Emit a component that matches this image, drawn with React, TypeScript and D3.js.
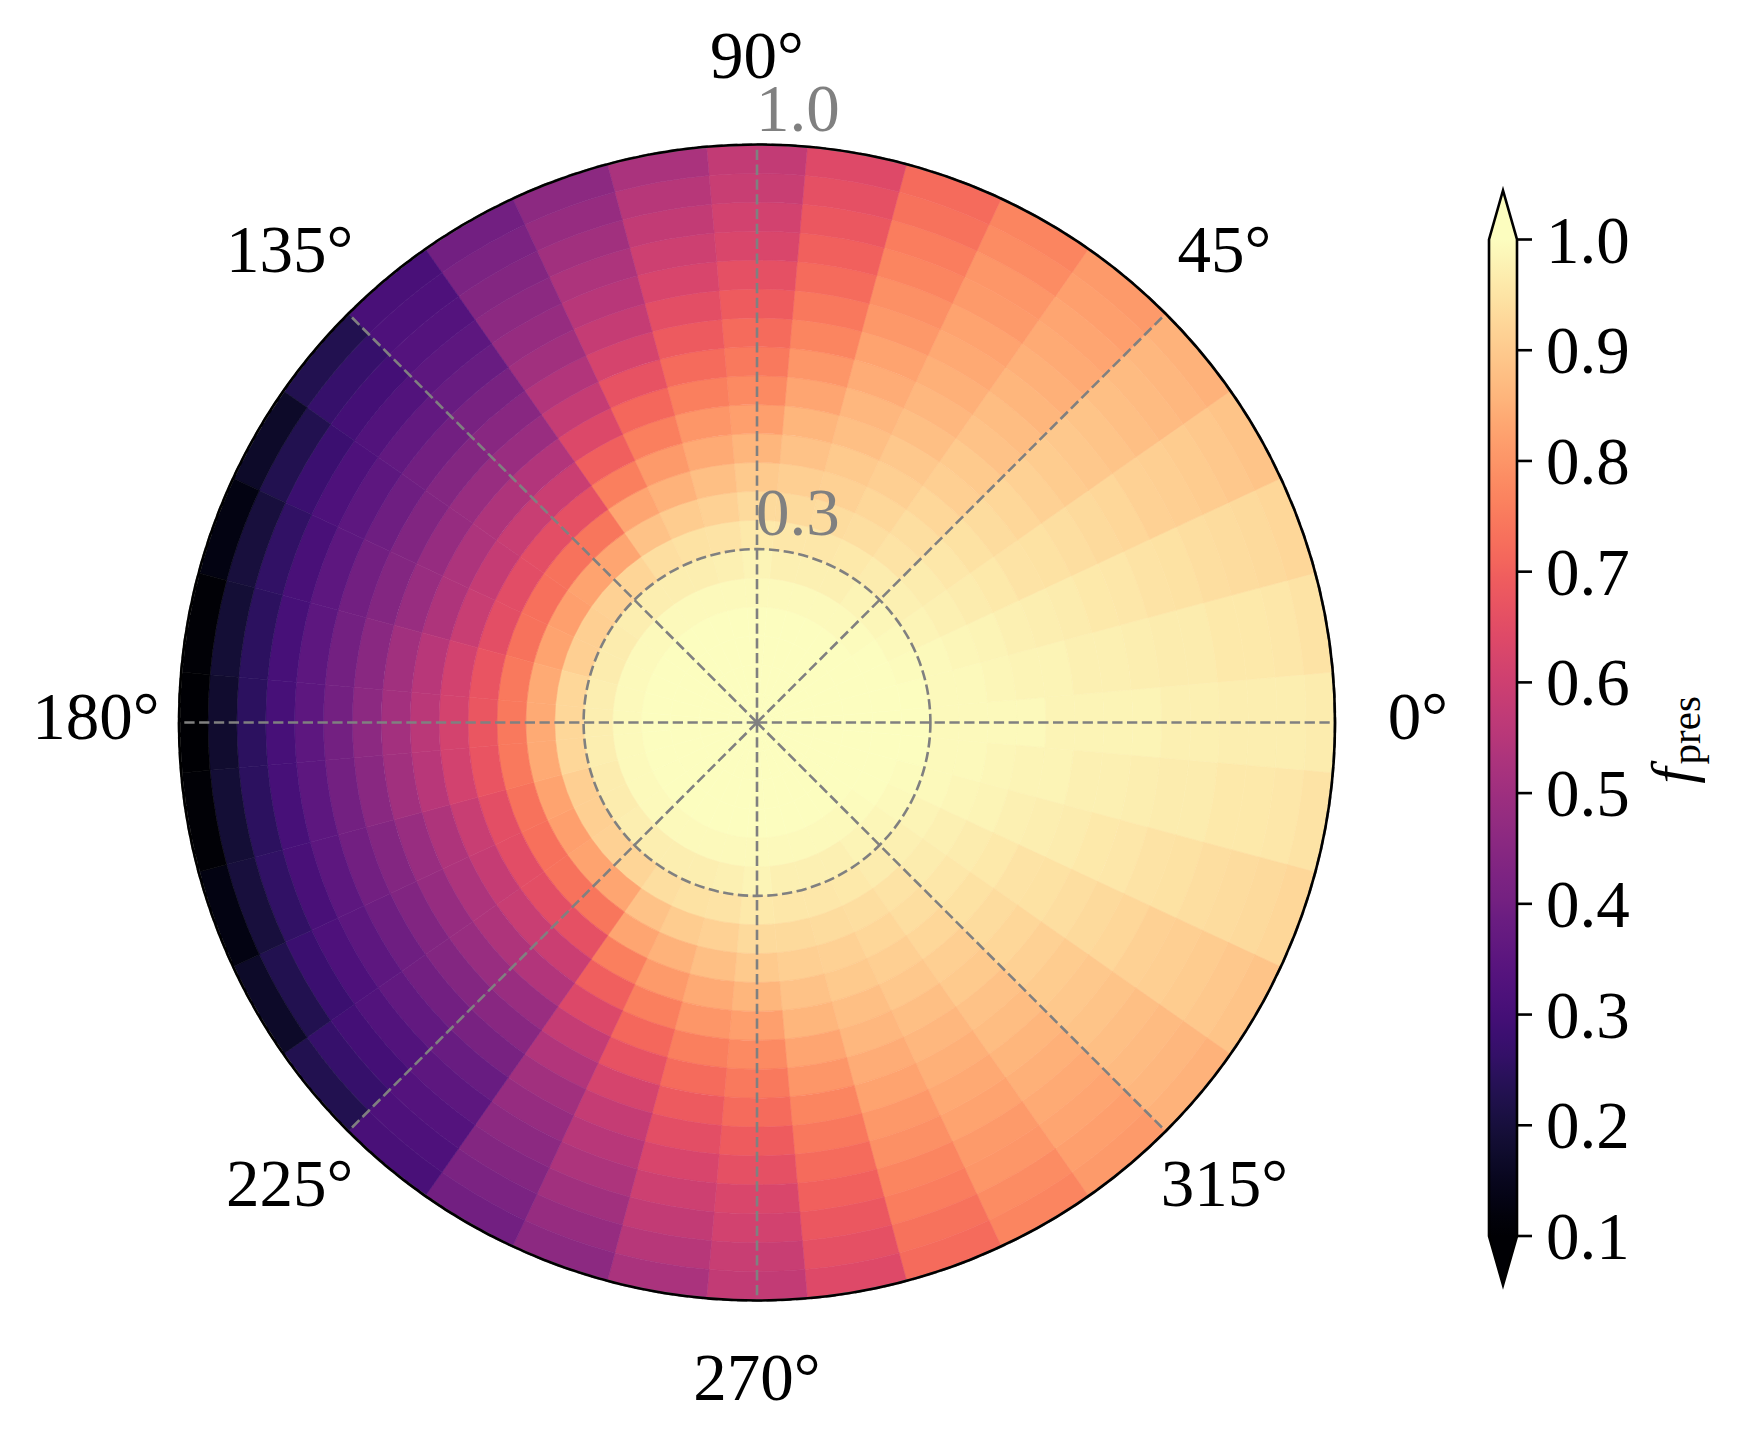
import React from 'react';
import * as d3 from 'd3';

// polar heatmap of f_pres (upper half; lower half mirrors it)
const thetaDeg = [0, 10, 20, 30, 40, 50, 60, 70, 80, 90, 100, 110, 120, 130, 140, 150, 160, 170, 180];
const radiusEdges = [0, 0.05, 0.1, 0.15, 0.2, 0.25, 0.3, 0.35, 0.4, 0.45, 0.5, 0.55, 0.6, 0.65, 0.7, 0.75, 0.8, 0.85, 0.9, 0.95, 1.0];

// one row per angle, one value per radial band (inner -> outer)
const fPres = [
  [1, 1, 1, 1, 1, 1, 0.99, 0.99, 0.99, 0.99, 0.98, 0.98, 0.98, 0.98, 0.975, 0.975, 0.97, 0.97, 0.97, 0.965],
  [1, 1, 1, 1, 1, 1, 0.99, 0.99, 0.985, 0.98, 0.98, 0.975, 0.975, 0.97, 0.965, 0.965, 0.96, 0.96, 0.955, 0.95],
  [1, 1, 1, 1, 1, 0.995, 0.99, 0.985, 0.98, 0.975, 0.97, 0.965, 0.96, 0.955, 0.95, 0.945, 0.94, 0.935, 0.93, 0.925],
  [1, 1, 1, 1, 1, 0.99, 0.98, 0.975, 0.965, 0.96, 0.95, 0.945, 0.94, 0.93, 0.925, 0.915, 0.91, 0.905, 0.895, 0.89],
  [1, 1, 1, 1, 0.995, 0.985, 0.975, 0.965, 0.955, 0.945, 0.935, 0.925, 0.915, 0.905, 0.895, 0.89, 0.88, 0.87, 0.865, 0.855],
  [1, 1, 1, 1, 0.99, 0.98, 0.965, 0.95, 0.94, 0.925, 0.91, 0.9, 0.885, 0.875, 0.86, 0.85, 0.84, 0.83, 0.82, 0.81],
  [1, 1, 1, 1, 0.99, 0.975, 0.96, 0.94, 0.925, 0.91, 0.895, 0.88, 0.865, 0.85, 0.835, 0.825, 0.81, 0.8, 0.785, 0.77],
  [1, 1, 1, 1, 0.99, 0.975, 0.955, 0.935, 0.915, 0.9, 0.88, 0.865, 0.845, 0.825, 0.805, 0.79, 0.77, 0.755, 0.735, 0.72],
  [1, 1, 1, 1, 0.99, 0.975, 0.955, 0.93, 0.91, 0.885, 0.86, 0.83, 0.8, 0.77, 0.745, 0.72, 0.7, 0.68, 0.66, 0.64],
  [1, 1, 1, 1, 0.99, 0.98, 0.96, 0.93, 0.9, 0.86, 0.82, 0.78, 0.75, 0.72, 0.69, 0.66, 0.63, 0.61, 0.59, 0.575],
  [1, 1, 1, 1, 0.99, 0.975, 0.95, 0.915, 0.88, 0.84, 0.8, 0.76, 0.72, 0.685, 0.655, 0.625, 0.6, 0.575, 0.55, 0.525],
  [1, 1, 1, 1, 0.99, 0.97, 0.945, 0.905, 0.855, 0.81, 0.76, 0.715, 0.665, 0.62, 0.585, 0.555, 0.53, 0.505, 0.48, 0.46],
  [1, 1, 1, 1, 0.99, 0.97, 0.94, 0.885, 0.83, 0.76, 0.695, 0.635, 0.585, 0.54, 0.505, 0.48, 0.46, 0.44, 0.42, 0.4],
  [1, 1, 1, 1, 0.99, 0.97, 0.92, 0.83, 0.74, 0.66, 0.595, 0.54, 0.49, 0.45, 0.415, 0.38, 0.355, 0.335, 0.32, 0.31],
  [1, 1, 1, 1, 0.99, 0.97, 0.915, 0.825, 0.735, 0.655, 0.59, 0.535, 0.485, 0.44, 0.4, 0.365, 0.33, 0.3, 0.27, 0.23],
  [1, 1, 1, 1, 0.99, 0.965, 0.91, 0.82, 0.73, 0.65, 0.585, 0.53, 0.48, 0.435, 0.395, 0.355, 0.32, 0.28, 0.23, 0.17],
  [1, 1, 1, 1, 0.99, 0.965, 0.91, 0.825, 0.735, 0.655, 0.59, 0.535, 0.485, 0.44, 0.4, 0.355, 0.31, 0.26, 0.2, 0.13],
  [1, 1, 1, 1, 0.99, 0.97, 0.925, 0.84, 0.75, 0.67, 0.61, 0.555, 0.505, 0.455, 0.405, 0.355, 0.305, 0.25, 0.19, 0.11],
  [1, 1, 1, 1, 0.99, 0.97, 0.925, 0.84, 0.75, 0.675, 0.615, 0.56, 0.51, 0.46, 0.405, 0.355, 0.305, 0.25, 0.18, 0.1],
];

const thetaTicks = [0, 45, 90, 135, 180, 225, 270, 315];
const radialTicks = [0.3, 1.0];
const cbarTicks = [0.1, 0.2, 0.3, 0.4, 0.5, 0.6, 0.7, 0.8, 0.9, 1.0];

const width = 1745;
const height = 1446;
const cx = 757;
const cy = 722.5;
const R = 578;
const halfBin = 5; // degrees
const labelR = 661;
const fontSize = 67;
const font = "Liberation Serif, Times New Roman, Times, serif";
const gridColor = '#808080';

// colorbar geometry
const cbX = 1489;
const cbW = 28;
const cbTop = 239.5;
const cbBot = 1236;
const cbExt = 49;

const rad = (deg: number) => (deg * Math.PI) / 180;

const App = () => {
  const rScale = d3.scaleLinear().domain([0, 1]).range([0, R]);
  const color = d3.scaleSequential(d3.interpolateMagma).domain([0.1, 1.0]).clamp(true);
  const cbScale = d3.scaleLinear().domain([0.1, 1.0]).range([cbBot, cbTop]);
  const arc = d3.arc();

  const cells: { key: string; d: string; fill: string }[] = [];
  thetaDeg.forEach((th, i) => {
    const angles = th === 0 || th === 180 ? [th] : [th, 360 - th];
    angles.forEach((a) => {
      fPres[i].forEach((v, j) => {
        const d = arc({
          innerRadius: rScale(radiusEdges[j]),
          outerRadius: rScale(radiusEdges[j + 1]),
          startAngle: rad(90 - (a + halfBin)),
          endAngle: rad(90 - (a - halfBin)),
        } as any) as string;
        cells.push({ key: `${a}-${j}`, d, fill: color(v) });
      });
    });
  });

  const gradStops = d3.range(0, 1.0001, 0.02);

  return (
    <svg width={width} height={height} style={{ position: 'absolute', left: 0, top: 0, background: '#fff' }}>
      <defs>
        <linearGradient id="cbgrad" x1="0" y1="1" x2="0" y2="0">
          {gradStops.map((t) => (
            <stop key={t} offset={t} stopColor={d3.interpolateMagma(t)} />
          ))}
        </linearGradient>
      </defs>
      <rect width={width} height={height} fill="#fff" />

      {/* heatmap */}
      <g transform={`translate(${cx},${cy})`}>
        {cells.map((c) => (
          <path key={c.key} d={c.d} fill={c.fill} stroke={c.fill} strokeWidth={0.6} />
        ))}

        {/* grid */}
        {thetaTicks.map((t) => (
          <line
            key={t}
            x1={0}
            y1={0}
            x2={rScale(1) * Math.cos(rad(t))}
            y2={-rScale(1) * Math.sin(rad(t))}
            stroke={gridColor}
            strokeWidth={2.6}
            strokeDasharray="10.3 4.5"
          />
        ))}
        {radialTicks.map((r) => (
          <circle key={r} r={rScale(r)} fill="none" stroke={gridColor} strokeWidth={2.6} strokeDasharray="10.3 4.5" />
        ))}
        <circle r={R} fill="none" stroke="#000" strokeWidth={2.6} />

        {/* radial labels */}
        {radialTicks.map((r) => (
          <text key={r} x={-1} y={-rScale(r) - 14} fontFamily={font} fontSize={fontSize} fill={gridColor}>
            {r.toFixed(1)}
          </text>
        ))}

        {/* angle labels */}
        {thetaTicks.map((t) => (
          <text
            key={t}
            x={labelR * Math.cos(rad(t))}
            y={-labelR * Math.sin(rad(t)) + 16.5}
            textAnchor="middle"
            fontFamily={font}
            fontSize={fontSize}
            fill="#000"
          >
            {`${t}°`}
          </text>
        ))}
      </g>

      {/* colorbar */}
      <rect x={cbX} y={cbTop} width={cbW} height={cbBot - cbTop} fill="url(#cbgrad)" />
      <polygon
        points={`${cbX},${cbTop + 0.5} ${cbX + cbW / 2},${cbTop - cbExt} ${cbX + cbW},${cbTop + 0.5}`}
        fill={color(1.0)}
      />
      <polygon
        points={`${cbX},${cbBot - 0.5} ${cbX + cbW / 2},${cbBot + cbExt} ${cbX + cbW},${cbBot - 0.5}`}
        fill={color(0.1)}
      />
      <path
        d={`M${cbX},${cbTop} L${cbX + cbW / 2},${cbTop - cbExt} L${cbX + cbW},${cbTop} L${cbX + cbW},${cbBot} L${cbX + cbW / 2},${cbBot + cbExt} L${cbX},${cbBot} Z`}
        fill="none"
        stroke="#000"
        strokeWidth={2.6}
        strokeLinejoin="miter"
      />
      {cbarTicks.map((t) => (
        <g key={t} transform={`translate(0,${cbScale(t)})`}>
          <line x1={cbX + cbW} x2={cbX + cbW + 15} stroke="#000" strokeWidth={2.6} />
          <text x={1546} y={23} fontFamily={font} fontSize={fontSize} fill="#000">
            {t.toFixed(1)}
          </text>
        </g>
      ))}
      <text transform="translate(1692,740) rotate(-90)" textAnchor="middle" fontFamily={font} fill="#000">
        <tspan fontStyle="italic" fontSize={59}>f</tspan>
        <tspan fontSize={41} dy={8} dx={3}>pres</tspan>
      </text>
    </svg>
  );
};

export default App;
